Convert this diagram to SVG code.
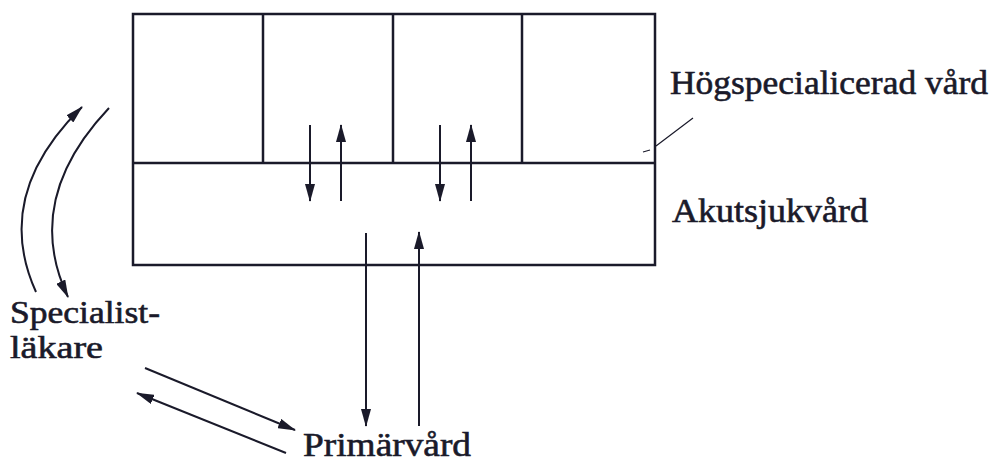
<svg xmlns="http://www.w3.org/2000/svg" width="1000" height="466" viewBox="0 0 1000 466">
<defs>
<style>
.box{fill:none;stroke:#1a1a2a;stroke-width:2.5}
.ln{fill:none;stroke:#1a1a2a;stroke-width:2}
.thin{fill:none;stroke:#1a1a2a;stroke-width:1.2}
.t{font-family:"Liberation Serif","Times New Roman",serif;font-size:34px;fill:#1a1a2a;stroke:#1a1a2a;stroke-width:0.6}
.s{font-size:32px}
</style>
<marker id="ah" viewBox="0 0 18 10" refX="17" refY="5" markerWidth="18" markerHeight="10" markerUnits="userSpaceOnUse" orient="auto">
<path d="M0,0 L18,5 L0,10 Z" fill="#1a1a2a"/>
</marker>
</defs>
<rect width="1000" height="466" fill="#ffffff"/>
<g id="block">
<rect class="box" x="133" y="14" width="522" height="251"/>
<line class="box" x1="133" y1="163" x2="655" y2="163"/>
<line class="box" x1="263" y1="14" x2="263" y2="163"/>
<line class="box" x1="393" y1="14" x2="393" y2="163"/>
<line class="box" x1="522" y1="14" x2="522" y2="163"/>
</g>
<g id="label-hog">
<text class="t" x="670" y="94" textLength="318" lengthAdjust="spacingAndGlyphs">Högspecialicerad vård</text>
<path class="thin" d="M643,152 L650,150 M656,146 L693,118"/>
</g>
<g id="label-akut">
<text class="t" x="672" y="222" textLength="196" lengthAdjust="spacingAndGlyphs">Akutsjukvård</text>
</g>
<g id="label-spec">
<text class="t s" x="10" y="323" textLength="150" lengthAdjust="spacingAndGlyphs">Specialist-</text>
<text class="t s" x="10" y="358" textLength="93" lengthAdjust="spacingAndGlyphs">läkare</text>
</g>
<g id="label-prim">
<text class="t" x="303" y="456" textLength="168" lengthAdjust="spacingAndGlyphs">Primärvård</text>
</g>
<g id="connectors">
<line class="ln" x1="310" y1="125" x2="310" y2="201" marker-end="url(#ah)"/>
<line class="ln" x1="341" y1="201" x2="341" y2="125" marker-end="url(#ah)"/>
<line class="ln" x1="440" y1="125" x2="440" y2="201" marker-end="url(#ah)"/>
<line class="ln" x1="471" y1="201" x2="471" y2="125" marker-end="url(#ah)"/>
<line class="ln" x1="366" y1="233" x2="366" y2="426" marker-end="url(#ah)"/>
<line class="ln" x1="419" y1="426" x2="419" y2="232" marker-end="url(#ah)"/>
<line class="ln" x1="145" y1="368" x2="295" y2="430" marker-end="url(#ah)"/>
<line class="ln" x1="286" y1="453" x2="137" y2="393" marker-end="url(#ah)"/>
<path class="ln" d="M36,292 Q-8,195 82,107" marker-end="url(#ah)"/>
<path class="ln" d="M109,108 Q22,200 68,297" marker-end="url(#ah)"/>
</g>
</svg>
